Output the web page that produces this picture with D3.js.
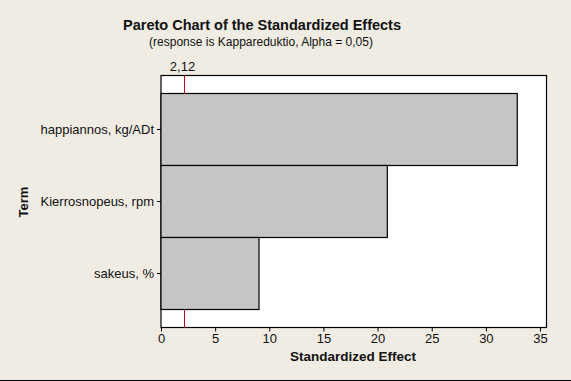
<!DOCTYPE html>
<html><head><meta charset="utf-8">
<script src="https://cdn.jsdelivr.net/npm/d3@7"></script>
<style>body{margin:0;background:#f0ece4;}svg{display:block;}</style>
</head><body>
<script>
const terms = ["happiannos, kg/ADt", "Kierrosnopeus, rpm", "sakeus, %"];
const effects = [32.9, 20.9, 9.05];
const critical = 2.12;
const criticalLabel = "2,12";
const xTicks = [0, 5, 10, 15, 20, 25, 30, 35];
const titleText = "Pareto Chart of the Standardized Effects";
const subtitleText = "(response is Kappareduktio, Alpha = 0,05)";

(function(){
const W = 571, H = 381;
const svg = d3.select("body").append("svg").attr("width", W).attr("height", H);
svg.append("rect").attr("width", W).attr("height", H).attr("fill", "#f0ece4");
svg.append("line").attr("x1",0).attr("x2",W).attr("y1",380.5).attr("y2",380.5).attr("stroke","#000");

const font = "'Liberation Sans', Arial, sans-serif";
const pL = 161, pR = 546.5, pT = 75.5, pB = 327.5;
const x = d3.scaleLinear().domain([0, 35.6]).range([pL, pR]);
const y = d3.scaleBand().domain(terms).range([pT + 18, pB - 18]).padding(0);

svg.append("rect").attr("x", pL).attr("y", pT).attr("width", pR-pL).attr("height", pB-pT)
  .attr("fill", "#fff").attr("stroke", "#000").attr("stroke-width", 1.2);

svg.append("g").selectAll("rect").data(terms).join("rect")
  .attr("x", x(0)).attr("y", d => y(d)).attr("width", (d,i) => x(effects[i]) - x(0))
  .attr("height", y.bandwidth()).attr("fill", "#c5c5c5").attr("stroke", "#000").attr("stroke-width", 1.2);

const xc = Math.round(x(critical)) + 0.5;
svg.append("line").attr("x1", xc).attr("x2", xc).attr("y1", pT).attr("y2", y(terms[0])).attr("stroke", "#c0001a").attr("stroke-width", 1);
svg.append("line").attr("x1", xc).attr("x2", xc).attr("y1", y(terms[2]) + y.bandwidth()).attr("y2", pB).attr("stroke", "#c0001a").attr("stroke-width", 1);
svg.append("text").attr("x", xc - 2).attr("y", 71).attr("text-anchor", "middle")
  .attr("font-family", font).attr("font-size", 13).attr("fill", "#111").text(criticalLabel);

const xAxis = svg.append("g").attr("transform", `translate(0,${pB})`)
  .call(d3.axisBottom(x).tickValues(xTicks).tickSize(4).tickPadding(2));
xAxis.select(".domain").remove();
xAxis.selectAll("text").attr("font-family", font).attr("font-size", 13).attr("fill", "#111");

const yAxis = svg.append("g").attr("transform", `translate(${pL},0)`)
  .call(d3.axisLeft(y).tickSize(4).tickPadding(3));
yAxis.select(".domain").remove();
yAxis.selectAll("text").attr("font-family", font).attr("font-size", 13).attr("fill", "#111");

svg.append("text").attr("x", 262).attr("y", 30).attr("text-anchor", "middle")
  .attr("font-family", font).attr("font-size", 14.5).attr("font-weight", "bold").attr("fill", "#111").text(titleText);
svg.append("text").attr("x", 261).attr("y", 46).attr("text-anchor", "middle")
  .attr("font-family", font).attr("font-size", 12).attr("fill", "#111").text(subtitleText);
svg.append("text").attr("x", 353).attr("y", 361).attr("text-anchor", "middle")
  .attr("font-family", font).attr("font-size", 13.5).attr("font-weight", "bold").attr("fill", "#111").text("Standardized Effect");
svg.append("text").attr("transform", "translate(28,202) rotate(-90)").attr("text-anchor", "middle")
  .attr("font-family", font).attr("font-size", 13).attr("font-weight", "bold").attr("fill", "#111").text("Term");
})();
</script>
</body></html>
